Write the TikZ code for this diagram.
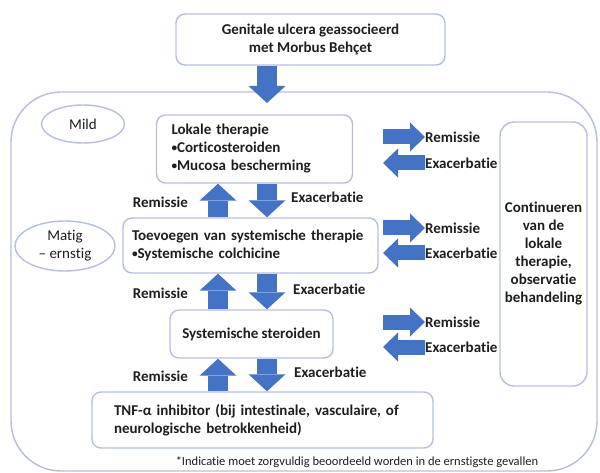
\documentclass[tikz,border=0pt]{standalone}
\usepackage{fontspec}
\setmainfont{Carlito}[Ligatures=NoCommon]
\usetikzlibrary{arrows.meta,positioning,calc,shapes.geometric}
\definecolor{kaderblauw}{RGB}{182,190,224}
\definecolor{pijlblauw}{RGB}{68,114,196}
\definecolor{tekstgrijs}{RGB}{30,30,30}
\newcommand{\punt}{\raisebox{0.15ex}{\scalebox{0.75}{•}}}
\tikzset{
  kader/.style={draw=kaderblauw, line width=1.4pt, rounded corners=9pt, text=tekstgrijs,
    font=\bfseries\fontsize{15}{18}\selectfont, inner xsep=12pt, inner ysep=0pt},
  ovaal/.style={ellipse, draw=kaderblauw, line width=1.4pt, text=tekstgrijs, inner sep=0pt,
    font=\fontsize{15}{18}\selectfont, align=center},
  pijltekst/.style={text=tekstgrijs, font=\bfseries\fontsize{15}{18}\selectfont, inner sep=0pt},
  vpijl/.style={draw=pijlblauw, line width=20pt,
    -{Triangle[width=37pt,length=17pt,line width=0pt,fill=pijlblauw]}},
  zijpijl/.style={draw=pijlblauw, line width=15pt,
    -{Triangle[width=29pt,length=15pt,line width=0pt,fill=pijlblauw]}}
}
\begin{document}
\begin{tikzpicture}[x=1pt,y=-1pt]
\useasboundingbox (0,0) rectangle (600,473);

\node[kader, minimum width=269pt, minimum height=51pt, align=center] (begin) at (310.5,39.5)
  {Genitale ulcera geassocieerd\\met Morbus Behçet};						% startkader
\draw[draw=kaderblauw, line width=1.4pt, rounded corners=50pt] (11,92) rectangle (597,471);	% buitenkader

\node[ovaal, minimum width=83pt, minimum height=38pt] (mild) at (83,124) {Mild};			% ernst mild
\node[ovaal, minimum width=100pt, minimum height=50pt] (matig) at (65,246) {Matig\\– ernstig};	% ernst matig

\node[kader, minimum width=195pt, minimum height=68pt, text width=166pt, inner xsep=15pt, align=left] (lokaal) at (254.5,149)
  {Lokale therapie\\\punt Corticosteroiden\\\punt Mucosa bescherming};			% stap 1
\node[kader, minimum width=255pt, minimum height=55pt, text width=237pt, inner xsep=9pt, align=left] (systeem) at (250.5,245.5)
  {Toevoegen van systemische therapie\\\punt Systemische colchicine};			% stap 2
\node[kader, minimum width=163pt, minimum height=48pt, align=center] (steroid) at (251.5,334)
  {Systemische steroiden};								% stap 3
\node[kader, minimum width=341pt, minimum height=56pt, text width=297pt, inner xsep=22pt, align=left] (tnf) at (262.5,420)
  {TNF-α inhibitor (bij intestinale, vasculaire, of\\neurologische betrokkenheid)};	% stap 4
\node[kader, rounded corners=14pt, minimum width=87pt, minimum height=264pt, inner xsep=0pt, align=center] (continu) at (543.5,254)
  {Continueren\\van de\\lokale\\therapie,\\observatie\\behandeling};			% rechterkader

\node[text=tekstgrijs, font=\fontsize{12.5}{14}\selectfont, inner sep=0pt] (voetnoot) at (357,462)
  {*Indicatie moet zorgvuldig beoordeeld worden in de ernstigste gevallen};		% voetnoot

\coordinate (opkolom) at (218,0);							% kolom pijlen omhoog
\coordinate (neerkolom) at (267,0);							% kolom pijlen omlaag
\coordinate (instap) at (267,103);							% punt in buitenkader

\draw[vpijl] (begin.south -| neerkolom) -- (instap);					% naar buitenkader
\draw[vpijl] (systeem.north -| opkolom) -- (lokaal.south -| opkolom);			% remissie 2-1
\draw[vpijl] (lokaal.south -| neerkolom) -- (systeem.north -| neerkolom);		% exacerbatie 1-2
\draw[vpijl] (steroid.north -| opkolom) -- (systeem.south -| opkolom);			% remissie 3-2
\draw[vpijl] (systeem.south -| neerkolom) -- (steroid.north -| neerkolom);		% exacerbatie 2-3
\draw[vpijl] (tnf.north -| opkolom) -- (steroid.south -| opkolom);			% remissie 4-3
\draw[vpijl] (steroid.south -| neerkolom) -- (tnf.north -| neerkolom);			% exacerbatie 3-4

\node[pijltekst, anchor=east] (rem1) at (188,202) {Remissie};				% label remissie 2-1
\node[pijltekst, anchor=west] (exa1) at (291,197) {Exacerbatie};			% label exacerbatie 1-2
\node[pijltekst, anchor=east] (rem2) at (188,293) {Remissie};				% label remissie 3-2
\node[pijltekst, anchor=west] (exa2) at (293,289) {Exacerbatie};			% label exacerbatie 2-3
\node[pijltekst, anchor=east] (rem3) at (188,376) {Remissie};				% label remissie 4-3
\node[pijltekst, anchor=west] (exa3) at (294,372) {Exacerbatie};			% label exacerbatie 3-4

\node[pijltekst, anchor=west] (zrem1) at (425,137) {Remissie};				% zijlabel stap 1
\node[pijltekst, anchor=west] (zexa1) at (425,163) {Exacerbatie};			% zijlabel stap 1
\node[pijltekst, anchor=west] (zrem2) at (425,228) {Remissie};				% zijlabel stap 2
\node[pijltekst, anchor=west] (zexa2) at (425,253) {Exacerbatie};			% zijlabel stap 2
\node[pijltekst, anchor=west] (zrem3) at (425,322) {Remissie};				% zijlabel stap 3
\node[pijltekst, anchor=west] (zexa3) at (425,347) {Exacerbatie};			% zijlabel stap 3

\coordinate (z1a) at ($(zrem1.west)+(-42,0)$);
\coordinate (z1b) at ($(zexa1.west)+(-42,0)$);
\coordinate (z2a) at ($(zrem2.west)+(-42,0)$);
\coordinate (z2b) at ($(zexa2.west)+(-42,0)$);
\coordinate (z3a) at ($(zrem3.west)+(-42,0)$);
\coordinate (z3b) at ($(zexa3.west)+(-42,0)$);
\draw[zijpijl] (z1a) -- (zrem1.west);							% remissie rechts 1
\draw[zijpijl] (zexa1.west) -- (z1b);							% exacerbatie links 1
\draw[zijpijl] (z2a) -- (zrem2.west);							% remissie rechts 2
\draw[zijpijl] (zexa2.west) -- (z2b);							% exacerbatie links 2
\draw[zijpijl] (z3a) -- (zrem3.west);							% remissie rechts 3
\draw[zijpijl] (zexa3.west) -- (z3b);							% exacerbatie links 3

\end{tikzpicture}
\end{document}
